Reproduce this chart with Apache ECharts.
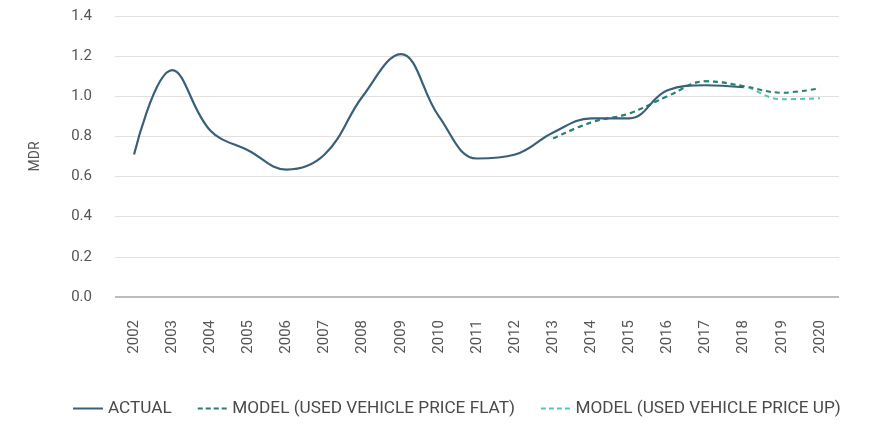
<!DOCTYPE html>
<html>
<head>
<meta charset="utf-8">
<script src="https://cdn.jsdelivr.net/npm/echarts@6/dist/echarts.min.js"></script>
<style>
html,body{margin:0;padding:0;background:#fff;}
#main{width:870px;height:429px;}
</style>
</head>
<body>
<div id="main"></div>
<script>
var years = ['2002','2003','2004','2005','2006','2007','2008','2009','2010','2011','2012','2013','2014','2015','2016','2017','2018','2019','2020'];
var actual = [0.71,1.13,0.83,0.73,0.635,0.71,1.0,1.21,0.90,0.69,0.71,0.82,0.89,0.89,1.03,1.055,1.045,null,null];
var modelFlat = [null,null,null,null,null,null,null,null,null,null,null,0.79,0.87,0.915,1.0,1.075,1.05,1.018,1.04];
var modelUp = [null,null,null,null,null,null,null,null,null,null,null,0.79,0.87,0.915,1.0,1.075,1.05,0.985,0.99];

var font = 'Roboto, sans-serif';
var solidIcon = 'path://M0,0H30V2H0Z';
var dashIcon = 'path://M0,0h5v2h-5zM8,0h5v2h-5zM16,0h5v2h-5zM24,0h5v2h-5z';

var myChart = echarts.init(document.getElementById('main'));
var option = {
    animation: false,
    grid: { left: 115, right: 31, top: 16, bottom: 132 },
    legend: {
        top: 395,
        left: 68,
        itemWidth: 34,
        itemHeight: 2,
        itemGap: 26,
        textStyle: { color: '#4a4a4a', fontSize: 17.2, fontFamily: font, padding: [0, 0, 0, -2] },
        data: [
            { name: 'ACTUAL', icon: solidIcon },
            { name: 'MODEL (USED VEHICLE PRICE FLAT)', icon: dashIcon },
            { name: 'MODEL (USED VEHICLE PRICE UP)', icon: dashIcon }
        ]
    },
    xAxis: {
        type: 'category',
        data: years,
        boundaryGap: true,
        axisLine: { show: false },
        axisTick: { show: false },
        axisLabel: { rotate: 90, color: '#555', fontSize: 15, fontFamily: font, margin: 23 }
    },
    yAxis: {
        type: 'value',
        min: 0,
        max: 1.4,
        interval: 0.2,
        name: 'MDR',
        nameLocation: 'middle',
        nameGap: 73,
        nameTextStyle: { color: '#555', fontSize: 14, fontFamily: font },
        axisLine: { show: false },
        axisTick: { show: false },
        axisLabel: {
            color: '#555', fontSize: 15, fontFamily: font, margin: 23,
            formatter: function (v) { return v.toFixed(1); }
        },
        splitLine: { lineStyle: { color: '#e4e0df', width: 1 } }
    },
    series: [
        {
            name: 'MODEL (USED VEHICLE PRICE UP)',
            type: 'line',
            data: modelUp,
            smooth: 0.4,
            showSymbol: false,
            symbol: 'none',
            z: 1,
            itemStyle: { color: '#52c6b6' },
            lineStyle: { color: '#52c6b6', width: 2, type: [5, 4] }
        },
        {
            name: 'MODEL (USED VEHICLE PRICE FLAT)',
            type: 'line',
            data: modelFlat,
            smooth: 0.4,
            showSymbol: false,
            symbol: 'none',
            z: 2,
            itemStyle: { color: '#2b7f6e' },
            lineStyle: { color: '#2b7f6e', width: 2, type: [5, 4] }
        },
        {
            name: 'ACTUAL',
            type: 'line',
            data: actual,
            smooth: 0.4,
            showSymbol: false,
            symbol: 'none',
            z: 3,
            itemStyle: { color: '#3a6079' },
            lineStyle: { color: '#3a6079', width: 2.2 },
            markLine: {
                silent: true,
                symbol: 'none',
                label: { show: false },
                lineStyle: { color: '#bdbdbd', width: 2, type: 'solid' },
                data: [{ yAxis: 0 }]
            }
        }
    ]
};
myChart.setOption(option);
</script>
</body>
</html>
